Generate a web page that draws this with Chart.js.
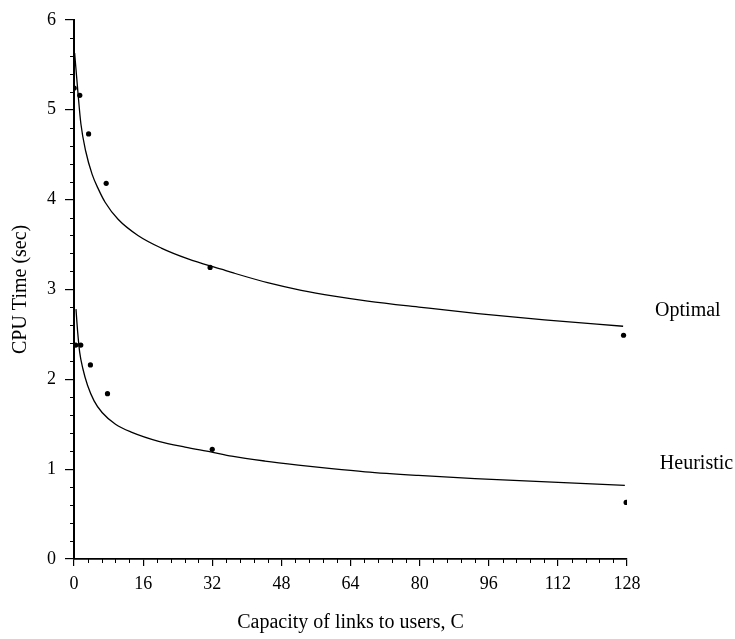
<!DOCTYPE html>
<html><head><meta charset="utf-8">
<style>html,body{margin:0;padding:0;background:#fff;}#wrap{width:735px;height:639px;}</style>
<script src="https://cdn.jsdelivr.net/npm/chart.js@4.4.1/dist/chart.umd.min.js"></script>
</head><body><div id="wrap"><canvas id="c" width="735" height="639"></canvas></div>
<script>
// ---- data ----
const xTicks = [0, 16, 32, 48, 64, 80, 96, 112, 128];
const yTicks = [0, 1, 2, 3, 4, 5, 6];
const xMinorStep = 3.2;
const yMinorStep = 0.2;

const optimalC   = [0.05, 1.34, 3.38, 7.45, 31.5, 127.2];
const optimalCPU = [5.24, 5.16, 4.73, 4.18, 3.245, 2.49];
const heuristicC   = [0.4, 1.57, 3.8, 7.75, 32.0, 127.8];
const heuristicCPU = [2.38, 2.38, 2.16, 1.84, 1.22, 0.63];

const optimalFitC   = [0.15, 0.95, 1.6, 2.7, 4.2, 5.7, 7.2, 10.2, 14.8, 20.2, 26.4, 34.1, 37.1, 44.8, 52.6, 60.2, 68.0, 80.4, 93.5, 108.9, 127.1];
const optimalFitCPU = [5.63, 5.17, 4.84, 4.54, 4.28, 4.11, 3.97, 3.78, 3.60, 3.46, 3.34, 3.225, 3.18, 3.075, 2.99, 2.925, 2.87, 2.80, 2.73, 2.66, 2.59];
const heuristicFitC   = [0.46, 0.86, 1.32, 2.04, 3.15, 4.65, 6.5, 9.6, 13.4, 19.6, 25.7, 31.9, 36.5, 44.2, 51.9, 59.6, 67.4, 79.7, 92.8, 108.2, 127.5];
const heuristicFitCPU = [2.78, 2.52, 2.30, 2.12, 1.93, 1.76, 1.63, 1.50, 1.41, 1.31, 1.245, 1.19, 1.145, 1.09, 1.045, 1.005, 0.97, 0.93, 0.895, 0.86, 0.82];

const seriesLabels = ['Optimal', 'Heuristic'];
const xTitle = 'Capacity of links to users, C';
const yTitle = 'CPU Time (sec)';

// ---- build ----
const zip = (xs, ys) => xs.map((x, i) => ({x: x, y: ys[i]}));
const FONT = 'Liberation Serif';
Chart.defaults.font.family = FONT;
Chart.defaults.color = '#000';

const curveStyle = {showLine: true, pointRadius: 0, borderColor: '#000', borderWidth: 1.3, cubicInterpolationMode: 'monotone', fill: false};
const pointStyle = {showLine: false, pointRadius: 2.6, pointHoverRadius: 2.6, backgroundColor: '#000', borderWidth: 0};

const minorTicks = {
  id: 'minorTicks',
  afterDraw(chart) {
    const ctx = chart.ctx, xs = chart.scales.x, ys = chart.scales.y, a = chart.chartArea;
    ctx.save();
    ctx.strokeStyle = '#000';
    ctx.lineWidth = 1;
    const nx = Math.round((xs.max - xs.min) / xMinorStep);
    for (let i = 0; i <= nx; i++) {
      const v = xs.min + i * xMinorStep;
      if (xTicks.some(t => Math.abs(t - v) < 1e-6)) continue;
      const p = Math.round(xs.getPixelForValue(v)) + 0.5;
      ctx.beginPath(); ctx.moveTo(p, a.bottom); ctx.lineTo(p, a.bottom + 4); ctx.stroke();
    }
    const ny = Math.round((ys.max - ys.min) / yMinorStep);
    for (let i = 0; i <= ny; i++) {
      const v = ys.min + i * yMinorStep;
      if (yTicks.some(t => Math.abs(t - v) < 1e-6)) continue;
      const p = Math.round(ys.getPixelForValue(v)) + 0.5;
      ctx.beginPath(); ctx.moveTo(a.left - 4, p); ctx.lineTo(a.left, p); ctx.stroke();
    }
    ctx.restore();
  }
};

const seriesText = {
  id: 'seriesText',
  afterDraw(chart) {
    const ctx = chart.ctx, xs = chart.scales.x, ys = chart.scales.y;
    ctx.save();
    ctx.fillStyle = '#000';
    ctx.font = '20px "' + FONT + '"';
    ctx.textBaseline = 'middle';
    ctx.textAlign = 'left';
    const ends = [[optimalFitC, optimalFitCPU, -15, 32], [heuristicFitC, heuristicFitCPU, -22, 35]];
    ends.forEach((e, i) => {
      const n = e[0].length - 1;
      const px = xs.getPixelForValue(e[0][n]);
      const py = ys.getPixelForValue(e[1][n]);
      ctx.fillText(seriesLabels[i], px + e[3], py + e[2]);
    });
    ctx.restore();
  }
};

new Chart(document.getElementById('c'), {
  type: 'scatter',
  data: {
    datasets: [
      Object.assign({label: seriesLabels[0] + ' fit', data: zip(optimalFitC, optimalFitCPU)}, curveStyle),
      Object.assign({label: seriesLabels[1] + ' fit', data: zip(heuristicFitC, heuristicFitCPU)}, curveStyle),
      Object.assign({label: seriesLabels[0], data: zip(optimalC, optimalCPU)}, pointStyle),
      Object.assign({label: seriesLabels[1], data: zip(heuristicC, heuristicCPU)}, pointStyle)
    ]
  },
  options: {
    responsive: false,
    animation: false,
    devicePixelRatio: 1,
    layout: {padding: {left: 0, top: 18, right: 108, bottom: 0}},
    plugins: {legend: {display: false}, tooltip: {enabled: false}},
    scales: {
      x: {
        type: 'linear', min: 0, max: 128,
        afterBuildTicks: s => { s.ticks = xTicks.map(v => ({value: v})); },
        afterFit: s => { s.height = 80; },
        border: {display: true, color: '#000', width: 1.8},
        grid: {display: true, drawOnChartArea: false, drawTicks: true, tickLength: 7, color: '#000', lineWidth: 1.2},
        ticks: {color: '#000', font: {family: FONT, size: 18}, padding: 7, maxRotation: 0, autoSkip: false},
        title: {display: true, text: xTitle, color: '#000', font: {family: FONT, size: 20}, padding: {top: 4, bottom: 4}}
      },
      y: {
        type: 'linear', min: 0, max: 6,
        afterBuildTicks: s => { s.ticks = yTicks.map(v => ({value: v})); },
        afterFit: s => { s.width = 74; },
        border: {display: true, color: '#000', width: 2},
        grid: {display: true, drawOnChartArea: false, drawTicks: true, tickLength: 9, color: '#000', lineWidth: 1.2},
        ticks: {color: '#000', font: {family: FONT, size: 18}, padding: 9},
        title: {display: true, text: yTitle, color: '#000', font: {family: FONT, size: 20}, padding: {top: 9, bottom: 9}}
      }
    }
  },
  plugins: [minorTicks, seriesText]
});
</script>
</body></html>
